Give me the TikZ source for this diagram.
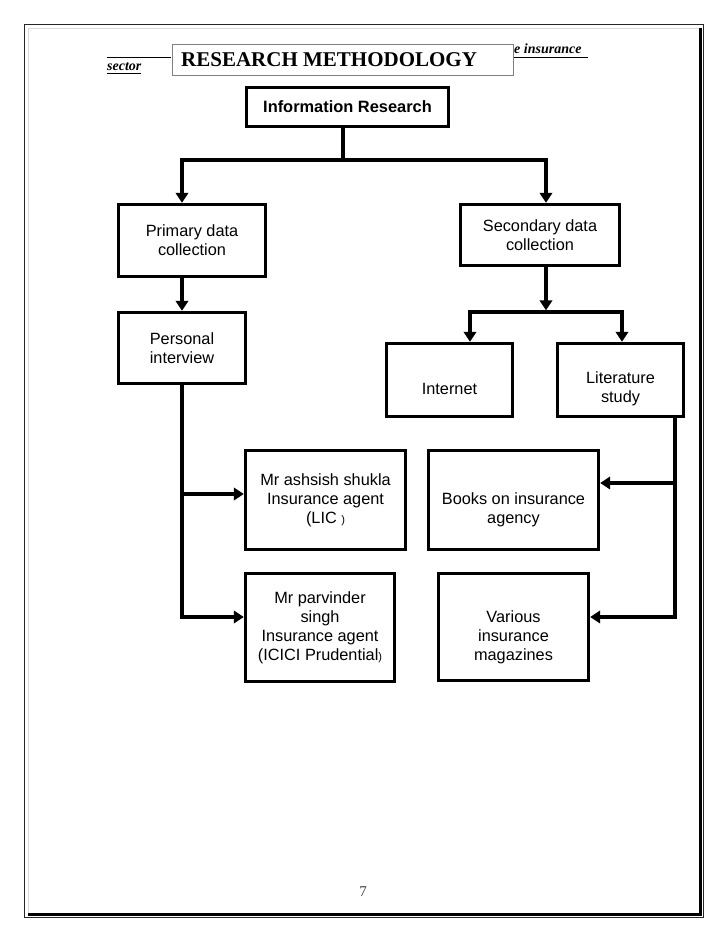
\documentclass[tikz,border=0pt]{standalone}
\usepackage{fontspec}
\setmainfont{Liberation Serif}
\setsansfont{Liberation Sans}
\usetikzlibrary{arrows.meta}
\tikzset{
  box/.style={draw=black, line width=3.4pt, fill=white, inner sep=0pt, align=center,
    font=\sffamily\fontsize{16.3}{19}\selectfont},
  conn/.style={line width=3.4pt, line cap=rect},
  arr/.style={conn, -{Triangle[width=12.5pt,length=10pt]}},
  lowtext/.style={font=\sffamily\fontsize{16.3}{19}\selectfont, align=center},
  hdr/.style={font=\rmfamily\bfseries\itshape\fontsize{14}{14}\selectfont, inner sep=0pt},
  hdrline/.style={line width=0.9pt}
}
\newcommand{\smallparen}{{\fontsize{11}{11}\selectfont )}}
\begin{document}
\begin{tikzpicture}[x=1pt,y=-1pt]
\useasboundingbox (0,0) rectangle (728,943);
\fill[white] (0,0) rectangle (728,943);
% page border
\draw[line width=1pt, black!85] (24,24) rectangle (703,917.5);
\draw[line width=0.8pt, black!15] (28,28) rectangle (699,913);
\draw[line width=3pt, black] (700.5,28) -- (700.5,914.5) -- (28,914.5);
% header remnants
\draw[hdrline] (107,57) -- (171,57);
\draw[hdrline] (513,57) -- (588,57);
\node[hdr, anchor=base west] (hdrright) at (514,53) {e insurance};
\node[hdr, anchor=base west] (hdrleft) at (107,70) {sector};
\draw[line width=0.7pt] (107,73) -- (141,73);
% title box
\node[draw=black!50, line width=1pt, fill=white, minimum width=341pt, minimum height=31pt,
  anchor=north west, inner sep=0pt] (title) at (171.5,43.5) {};
\node[anchor=base west, inner sep=0pt, font=\rmfamily\bfseries\fontsize{21}{21}\selectfont] (titletxt) at (181,66) {RESEARCH METHODOLOGY};
% boxes
\node[box, minimum width=202pt, minimum height=39pt, font=\sffamily\bfseries\fontsize{16.4}{19}\selectfont] (info) at (347.5,107) {Information Research};
\node[box, minimum width=147pt, minimum height=72pt] (prim) at (192,240.5) {Primary data\\collection};
\node[box, minimum width=159pt, minimum height=61pt] (sec) at (540,235) {Secondary data\\collection};
\node[box, minimum width=127pt, minimum height=71pt] (pers) at (182,348) {Personal\\interview};
\node[box, minimum width=126pt, minimum height=73pt,
  label={[lowtext, yshift=-9pt]center:Internet}] (inet) at (449.5,380) {};
\node[box, minimum width=126pt, minimum height=73pt,
  label={[lowtext, yshift=-9pt]center:Literature\\study}] (lit) at (620.5,380) {};
\node[box, minimum width=160pt, minimum height=99pt] (ash) at (325.5,500) {Mr ashsish shukla\\Insurance agent\\(LIC \smallparen};
\node[box, minimum width=170pt, minimum height=99pt,
  label={[lowtext, yshift=-10pt]center:Books on insurance\\agency}] (books) at (513.5,500) {};
\node[box, minimum width=149pt, minimum height=108pt] (parv) at (320,627.5) {Mr parvinder\\singh\\Insurance agent\\(ICICI Prudential\smallparen};
\node[box, minimum width=150pt, minimum height=107pt,
  label={[lowtext, yshift=-10pt]center:Various\\insurance\\magazines}] (var) at (513.5,627) {};
% connector coordinates
\coordinate (j1) at (343,160);
\coordinate (hl) at (182,160);
\coordinate (hr) at (546,160);
\coordinate (sj) at (546,312);
\coordinate (sl) at (470,312);
\coordinate (sr) at (622,312);
\coordinate (la) at (182,494);
\coordinate (lb) at (182,617);
\coordinate (ra) at (675,483);
\coordinate (rb) at (675,617);
% connectors
\draw[conn] (info.south -| j1) -- (j1);
\draw[arr] (j1) -- (hl) -- (prim.north -| hl);
\draw[arr] (j1) -- (hr) -- (sec.north -| hr);
\draw[arr] (prim.south -| pers.north) -- (pers.north);
\draw[arr] (sec.south -| sj) -- ([yshift=1.7pt]sj);
\draw[arr] (sr) -- (sl) -- (inet.north -| sl);
\draw[arr] (sl) -- (sr) -- (lit.north -| sr);
\draw[arr] (pers.south) -- (lb) -- (lb -| parv.west);
\draw[arr] (la) -- (la -| ash.west);
\draw[arr] (lit.south -| rb) -- (rb) -- (rb -| var.east);
\draw[arr] (ra) -- (ra -| books.east);
% page number
\node[anchor=base, inner sep=0pt, text=black!75, font=\rmfamily\fontsize{15}{15}\selectfont] (pagenum) at (363,896) {7};
\end{tikzpicture}
\end{document}
